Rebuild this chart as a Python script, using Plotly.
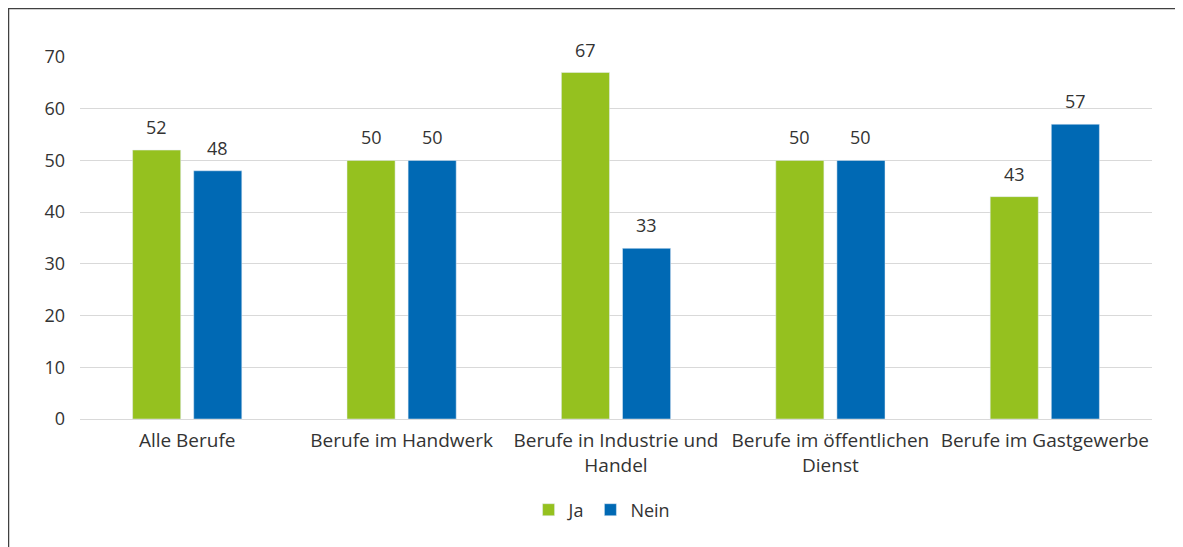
import plotly.graph_objects as go

categories = ["Alle Berufe", "Berufe im Handwerk", "Berufe in Industrie und<br>Handel",
              "Berufe im öffentlichen<br>Dienst", "Berufe im Gastgewerbe"]
ja = [52, 50, 67, 50, 43]
nein = [48, 50, 33, 50, 57]

GREEN = "#95C11F"
BLUE = "#0069B4"
TXT = "#333333"
FONT = "Open Sans"

fig = go.Figure()
fig.add_trace(go.Bar(name="Ja", x=categories, y=ja, marker_color=GREEN))
fig.add_trace(go.Bar(name="Nein", x=categories, y=nein, marker_color=BLUE))

# value labels above bars (from the data arrays)
for vals, xs in ((ja, -30.5), (nein, 30.5)):
    for c, v in zip(categories, vals):
        fig.add_annotation(x=c, y=v, text=str(v), showarrow=False, xref="x", yref="y",
                           xshift=xs, yshift=23, yanchor="middle",
                           font=dict(size=18, color=TXT, family=FONT))

# page has 8px body margin: figure starts at screen (8,8)
W, H = 1175, 539
ml, mr, mt, mb = 72, 31, 49, 128
pw, ph = W - ml - mr, H - mt - mb

def px_x(p):  # figure pixel -> paper
    return (p - ml) / pw

def px_y(p):
    return (H - mb - p) / ph

fig.add_shape(type="line", xref="paper", yref="paper",
              x0=px_x(0.5), x1=px_x(0.5), y0=px_y(0), y1=px_y(H),
              line=dict(color="#404040", width=1.5))
fig.add_shape(type="line", xref="paper", yref="paper",
              x0=px_x(0), x1=px_x(W), y0=px_y(0.5), y1=px_y(0.5),
              line=dict(color="#404040", width=1.5))

fig.update_layout(
    width=W, height=H,
    margin=dict(l=ml, r=mr, t=mt, b=mb),
    paper_bgcolor="white", plot_bgcolor="white",
    barmode="group", bargap=0.43, bargroupgap=0.213,
    font=dict(family=FONT, size=18, color=TXT),
    showlegend=True,
    legend=dict(orientation="h", x=0.487, xanchor="center", y=px_y(502), yanchor="middle",
                font=dict(size=18, color=TXT, family=FONT), itemwidth=30,
                traceorder="normal"),
    xaxis=dict(showgrid=False, showline=False, ticks="", ticklabelstandoff=8,
               tickfont=dict(size=19, color=TXT, family=FONT)),
    yaxis=dict(range=[0, 70], dtick=10, showgrid=True, gridcolor="#d9d9d9", gridwidth=1.3,
               zeroline=True, zerolinecolor="#d9d9d9", zerolinewidth=1.3,
               showline=False, ticks="", ticklabelstandoff=14,
               tickfont=dict(size=18, color=TXT, family=FONT)),
)

fig.write_html("out.html")
